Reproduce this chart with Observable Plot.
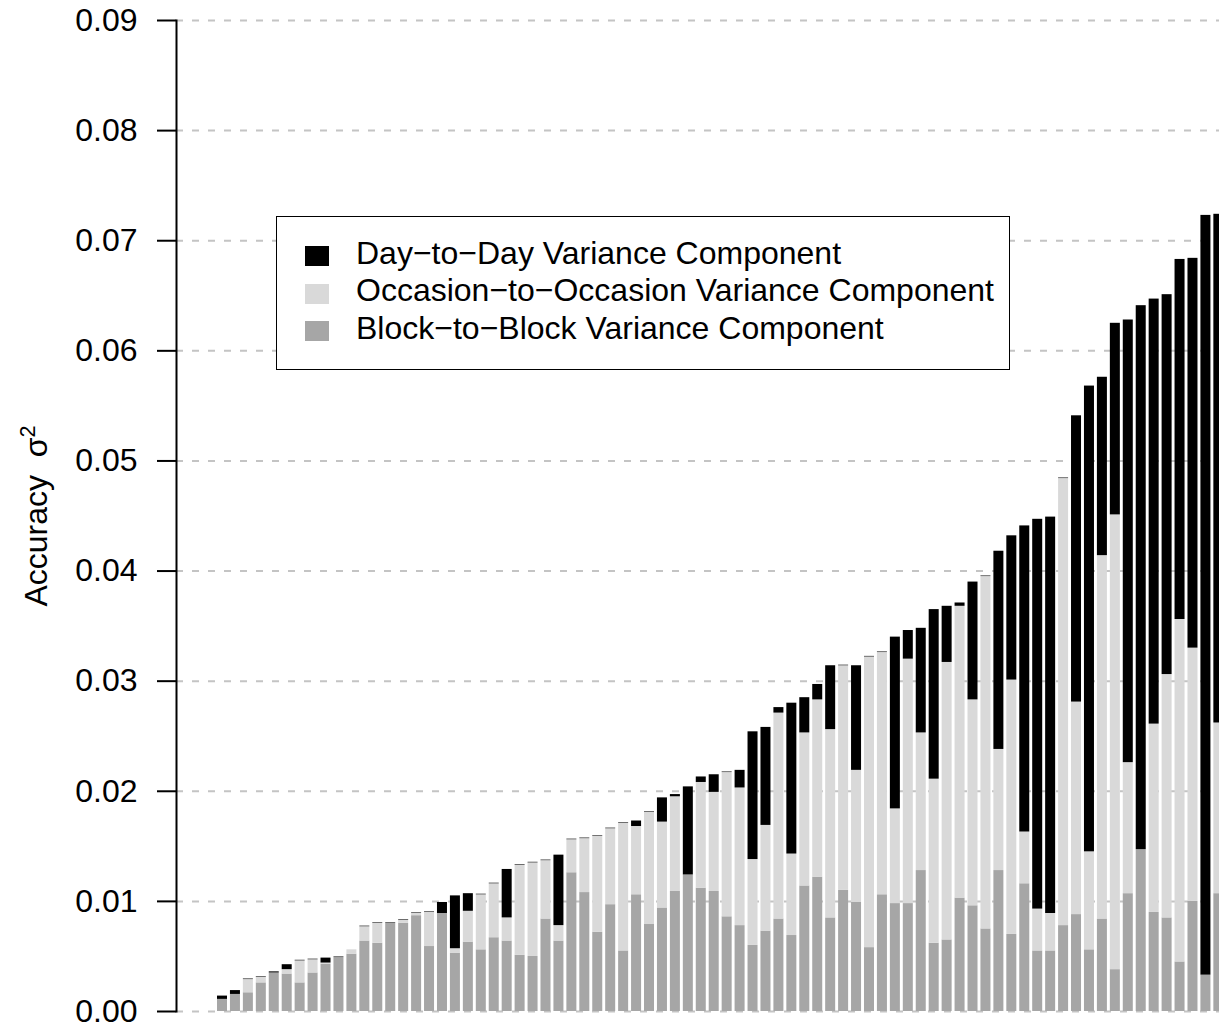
<!DOCTYPE html>
<html>
<head>
<meta charset="utf-8">
<script src="https://cdn.jsdelivr.net/npm/d3@7"></script>
<script src="https://cdn.jsdelivr.net/npm/@observablehq/plot@0.6"></script>
<style>
  body { margin: 0; background: #fff; }
  #wrap { position: relative; width: 1219px; height: 1024px; overflow: hidden; font-family: "Liberation Sans", Arial, Helvetica, sans-serif; }
  #ylab { position: absolute; left: 36px; top: 516px; transform: translate(-50%, -50%) rotate(-90deg); font-size: 32px; white-space: nowrap; color: #000; }
  #ylab sup { font-size: 68%; vertical-align: 0.55em; line-height: 0; }
  #legend { position: absolute; left: 276px; top: 216px; width: 734px; height: 154px; box-sizing: border-box; border: 1.6px solid #000; background: #fff; }
  .item { position: absolute; left: 0; height: 38px; width: 100%; }
  .sw { position: absolute; left: 28px; width: 24px; height: 20px; }
  .lt { position: absolute; left: 79px; font-size: 32px; white-space: nowrap; color: #000; }
</style>
</head>
<body>
<div id="wrap">
  <div id="chart"></div>
  <div id="ylab">Accuracy&nbsp;&nbsp;σ<sup>2</sup></div>
  <div id="legend"></div>
</div>
<script>
// Variance components per bar (bottom to top: Block, Occasion, Day)
const block = [
  0.0011, 0.00155, 0.0017, 0.0026, 0.0035, 0.0034, 0.0026, 0.0035, 0.0043, 0.0049,
  0.0052, 0.0064, 0.0062, 0.0080, 0.0080, 0.0087, 0.0059, 0.0089, 0.0053, 0.0063,
  0.0056, 0.0067, 0.0064, 0.0051, 0.0050, 0.0084, 0.0064, 0.0126, 0.0108, 0.0072,
  0.0097, 0.0055, 0.0106, 0.0079, 0.0094, 0.0109, 0.0124, 0.0112, 0.0109, 0.0086,
  0.0078, 0.0060, 0.0073, 0.0084, 0.0069, 0.0114, 0.0122, 0.0085, 0.0110, 0.0099,
  0.0058, 0.0106, 0.0098, 0.0098, 0.0128, 0.0062, 0.0065, 0.0103, 0.0096, 0.0075,
  0.0128, 0.0070, 0.0116, 0.0055, 0.0055, 0.0078, 0.0088, 0.0056, 0.0084, 0.0038,
  0.0107, 0.0147, 0.0090, 0.0085, 0.0045, 0.0100, 0.0033, 0.0107
];
const occasion = [
  0, 0, 0.0012, 0.0005, 0, 0.0004, 0.0020, 0.0012, 0.0001, 0,
  0.0004, 0.0013, 0.0018, 0, 0.0003, 0.0002, 0.0031, 0, 0.0004, 0.0028,
  0.0050, 0.0049, 0.0021, 0.0082, 0.0085, 0.0053, 0.0014, 0.0030, 0.0049, 0.0087,
  0.0069, 0.0116, 0.0062, 0.0102, 0.0078, 0.0086, 0, 0.0096, 0.0090, 0.0131,
  0.0125, 0.0078, 0.0096, 0.0187, 0.0074, 0.0139, 0.0161, 0.0171, 0.0204, 0.0120,
  0.0264, 0.0220, 0.0086, 0.0222, 0.0125, 0.0149, 0.0252, 0.0265, 0.0187, 0.0320,
  0.0110, 0.0231, 0.0047, 0.0038, 0.0034, 0.0406, 0.0193, 0.0089, 0.0330, 0.0413,
  0.0119, 0, 0.0171, 0.0221, 0.0311, 0.0230, 0, 0.0155
];
const day = [
  0.0003, 0.00035, 0.00005, 0.00005, 0.0001, 0.00045, 0.00005, 0.00005, 0.00045, 0.00005,
  0, 0.00005, 0.00005, 0.00005, 0.00005, 0.00005, 0.00005, 0.0010, 0.0048, 0.0016,
  0.00005, 0.00005, 0.0044, 0.00005, 0.00005, 0.00005, 0.0064, 0.00005, 0.00005, 0.00005,
  0.00005, 0.00005, 0.0005, 0.00005, 0.0022, 0.0002, 0.0080, 0.0005, 0.0016, 0.00005,
  0.0016, 0.0116, 0.0089, 0.0005, 0.0137, 0.0032, 0.0014, 0.0058, 0.00005, 0.0095,
  0.00005, 0.00005, 0.0156, 0.0026, 0.0095, 0.0154, 0.0051, 0.0003, 0.0107, 0.00005,
  0.0180, 0.0131, 0.0278, 0.0354, 0.0360, 0.00005, 0.0260, 0.0423, 0.0162, 0.0174,
  0.0402, 0.0494, 0.0386, 0.0345, 0.0327, 0.0354, 0.0690, 0.0462
];
const components = ["Block", "Occasion", "Day"];
const componentColors = ["#a6a6a6", "#d9d9d9", "#000000"];
const legendLabels = [
  ["Day", "Day\u2212to\u2212Day Variance Component"],
  ["Occasion", "Occasion\u2212to\u2212Occasion Variance Component"],
  ["Block", "Block\u2212to\u2212Block Variance Component"]
];
const yTicks = [0, 0.01, 0.02, 0.03, 0.04, 0.05, 0.06, 0.07, 0.08, 0.09];

const bars = block.map((_, i) => i + 1);
const data = bars.flatMap((b, i) => [
  {bar: b, comp: "Block", v: block[i]},
  {bar: b, comp: "Occasion", v: occasion[i]},
  {bar: b, comp: "Day", v: day[i]}
]);

const chart = Plot.plot({
  width: 1219,
  height: 1024,
  marginTop: 20,
  marginBottom: 13,
  marginLeft: 176,
  marginRight: 0,
  style: {fontFamily: '"Liberation Sans", Arial, Helvetica, sans-serif', background: "#fff", color: "#000"},
  x: {type: "band", domain: bars, range: [214.06, 1226.3], paddingInner: 0.227, paddingOuter: 0.227, align: 0.5, round: false, axis: null},
  y: {domain: [0, 0.09], axis: null},
  color: {type: "ordinal", domain: components, range: componentColors},
  marks: [
    Plot.gridY(yTicks, {stroke: "#c4c4c4", strokeOpacity: 1, strokeWidth: 2, strokeDasharray: "7,9"}),
    Plot.barY(data, {x: "bar", y: "v", fill: "comp"}),
    Plot.axisY(yTicks, {tickSize: 19, tickPadding: 20, tickFormat: d3.format(".2f"), fontSize: 32, strokeWidth: 2, stroke: "#000", label: null}),
    Plot.frame({anchor: "left", strokeWidth: 2, stroke: "#000"})
  ]
});
document.getElementById("chart").appendChild(chart);

const colorOf = Object.fromEntries(components.map((c, i) => [c, componentColors[i]]));
const legend = document.getElementById("legend");
legendLabels.forEach(([comp, text], i) => {
  const item = document.createElement("div");
  item.className = "item";
  item.style.top = (22 + i * 37.7) + "px";
  const sw = document.createElement("div");
  sw.className = "sw";
  sw.style.top = "7px";
  sw.style.background = colorOf[comp];
  const lt = document.createElement("div");
  lt.className = "lt";
  lt.style.top = "-4.5px";
  lt.textContent = text;
  item.appendChild(sw);
  item.appendChild(lt);
  legend.appendChild(item);
});
</script>
</body>
</html>
